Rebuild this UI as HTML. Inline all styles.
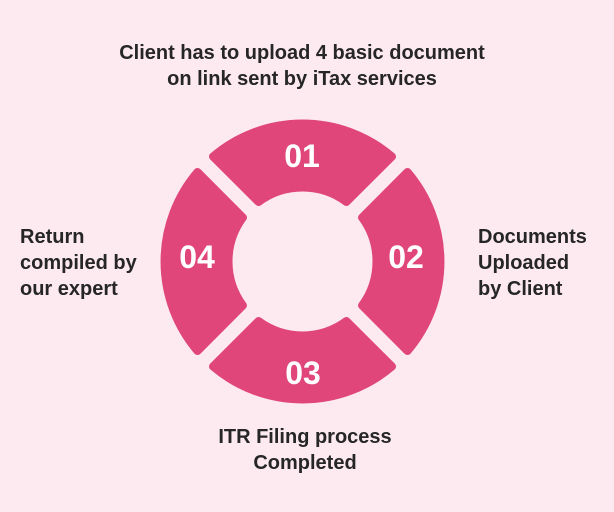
<!DOCTYPE html>
<html><head><meta charset="utf-8"><style>
html,body{margin:0;padding:0;background:#fdeaf0;}
body{width:614px;height:512px;position:relative;overflow:hidden;font-family:"Liberation Sans",sans-serif;}
.t{position:absolute;color:#262626;font-size:20px;line-height:26px;font-weight:bold;}
</style></head><body>
<svg width="614" height="512" style="position:absolute;left:0;top:0">
<g fill="#e0467a" stroke="#e0467a" stroke-width="8" stroke-linejoin="round">
<path id="s" d="M213,156.5 A138 138 0 0 1 392,156.5 L346.45,201.97 A74 74 0 0 0 258.55,201.97 Z"/>
<use href="#s" transform="rotate(90 302.5 261.5)"/>
<use href="#s" transform="rotate(180 302.5 261.5)"/>
<use href="#s" transform="rotate(270 302.5 261.5)"/>
</g>
<g fill="#fff" font-family="Liberation Sans, sans-serif" font-weight="bold" font-size="32" text-anchor="middle">
<text x="302" y="167">01</text>
<text x="406" y="268">02</text>
<text x="303" y="384">03</text>
<text x="197" y="268">04</text>
</g>
</svg>
<div class="t" style="left:0;width:604px;top:40px;text-align:center">Client has to upload 4 basic document<br>on link sent by iTax services</div>
<div class="t" style="left:20px;top:224px">Return<br>compiled by<br>our expert</div>
<div class="t" style="left:478px;top:224px">Documents<br>Uploaded<br>by Client</div>
<div class="t" style="left:0;width:610px;top:424px;text-align:center">ITR Filing process<br>Completed</div>
</body></html>
